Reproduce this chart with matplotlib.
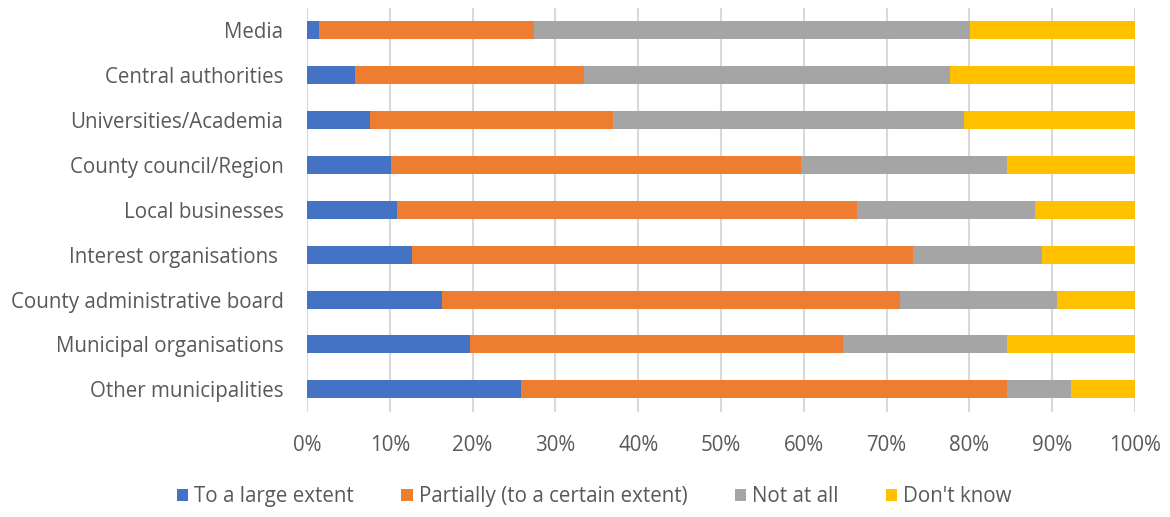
import matplotlib
matplotlib.use("Agg")
import matplotlib.pyplot as plt
import numpy as np

# shares in percent, one value per category (top to bottom)
categories = ["Media", "Central authorities", "Universities/Academia",
              "County council/Region", "Local businesses", "Interest organisations ",
              "County administrative board", "Municipal organisations",
              "Other municipalities"]
large_extent = [1.5, 5.8, 7.6, 10.1, 10.9, 12.7, 16.3, 19.7, 25.8]
partially = [25.9, 27.7, 29.4, 49.5, 55.5, 60.5, 55.3, 45.0, 58.7]
not_at_all = [52.7, 44.1, 42.3, 24.9, 21.5, 15.6, 19.0, 19.8, 7.8]
dont_know = [19.9, 22.4, 20.7, 15.5, 12.1, 11.2, 9.4, 15.5, 7.7]

series = [("To a large extent", large_extent, "#4472C4"),
          ("Partially (to a certain extent)", partially, "#ED7D31"),
          ("Not at all", not_at_all, "#A5A5A5"),
          ("Don't know", dont_know, "#FFC000")]

plt.rcParams['font.family'] = ['Open Sans', 'DejaVu Sans']
text_col = "#595959"

fig = plt.figure(figsize=(11.7, 5.17), dpi=100)
ax = fig.add_axes([0.2624, 0.2037, 0.7077, 0.7808])

y = np.arange(len(categories))
left = np.zeros(len(categories))
for name, vals, col in series:
    vals = np.array(vals)
    ax.barh(y, vals, left=left, height=0.4, color=col, label=name, zorder=3)
    left += vals

ax.set_xlim(0, 100)
ax.set_ylim(len(categories) - 0.5, -0.5)
ax.set_yticks(y)
ax.set_yticklabels(categories, fontsize=14.8, color=text_col)
ax.set_xticks(np.arange(0, 101, 10))
ax.set_xticklabels([f"{v}%" for v in range(0, 101, 10)], fontsize=14.8, color=text_col)
ax.tick_params(axis='both', length=0)
ax.tick_params(axis='y', pad=17)
ax.tick_params(axis='x', pad=17)
ax.grid(axis='x', color="#D9D9D9", linewidth=1.5, zorder=0)
for s in ax.spines.values():
    s.set_visible(False)

leg = fig.legend(loc='center', bbox_to_anchor=(0.508, 0.039), ncol=4, frameon=False,
                 fontsize=14.8, handlelength=0.55, handleheight=0.55, handletextpad=0.3,
                 columnspacing=2.3)
for t in leg.get_texts():
    t.set_color(text_col)

fig.savefig("out.png", dpi=100)
